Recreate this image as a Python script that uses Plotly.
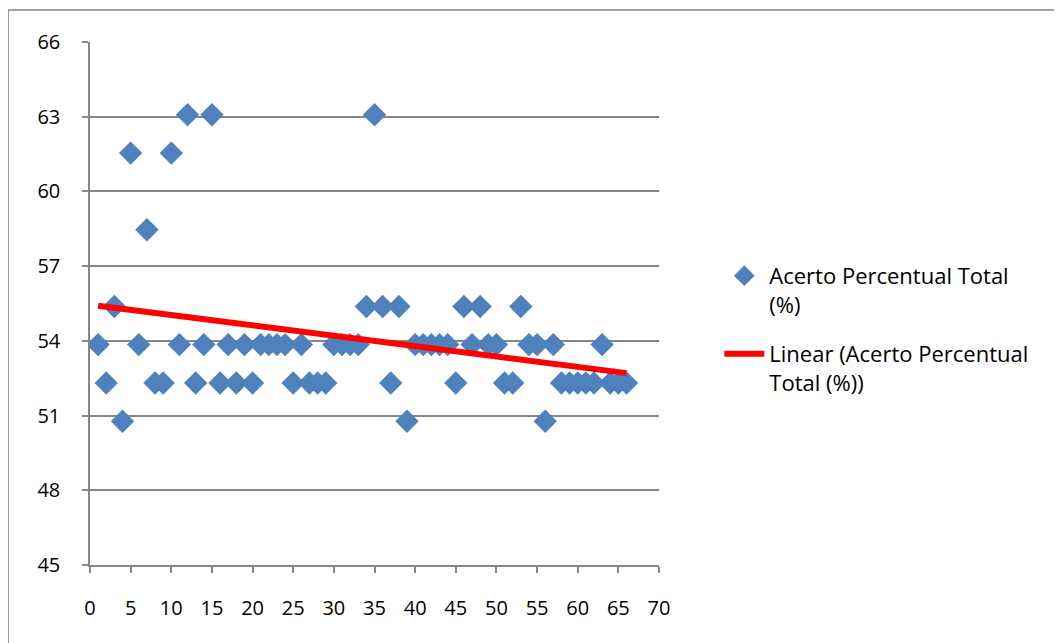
import numpy as np
import plotly.graph_objects as go

# Data
x_vals = list(range(1, 67))
acerto = [
    53.85, 52.31, 55.38, 50.77, 61.54, 53.85, 58.46, 52.31, 52.31, 61.54,
    53.85, 63.08, 52.31, 53.85, 63.08, 52.31, 53.85, 52.31, 53.85, 52.31,
    53.85, 53.85, 53.85, 53.85, 52.31, 53.85, 52.31, 52.31, 52.31, 53.85,
    53.85, 53.85, 53.85, 55.38, 63.08, 55.38, 52.31, 55.38, 50.77, 53.85,
    53.85, 53.85, 53.85, 53.85, 52.31, 55.38, 53.85, 55.38, 53.85, 53.85,
    52.31, 52.31, 55.38, 53.85, 53.85, 50.77, 53.85, 52.31, 52.31, 52.31,
    52.31, 52.31, 53.85, 52.31, 52.31, 52.31,
]
y_ticks = [45, 48, 51, 54, 57, 60, 63, 66]
x_ticks = list(range(0, 75, 5))

# Linear trend line (least squares), as in the Excel chart
slope, intercept = np.polyfit(x_vals, acerto, 1)
trend_x = [x_vals[0], x_vals[-1]]
trend_y = [slope * v + intercept for v in trend_x]

FONT = "Open Sans"
FS = 20
LEG_FS = 22

fig = go.Figure()
fig.add_trace(go.Scatter(
    x=x_vals, y=acerto, mode="markers",
    name="Acerto Percentual Total<br>(%)", legendgroup="g1",
    marker=dict(symbol="diamond", size=18, color="#4F81BD",
                line=dict(width=0)),
))
fig.add_trace(go.Scatter(
    x=trend_x, y=trend_y, mode="lines",
    name="Linear (Acerto Percentual<br>Total (%))", legendgroup="g2",
    line=dict(color="#FF0000", width=6),
))

# page body has an 8px margin: figure is shifted by 8px
fig.update_layout(
    width=1054, height=635,
    margin=dict(l=82, r=403, t=34, b=78, autoexpand=False),
    paper_bgcolor="white", plot_bgcolor="white",
    font=dict(family=FONT, size=FS, color="black"),
    showlegend=True,
    legend=dict(
        x=1.106, y=0.593, xanchor="left", yanchor="top",
        valign="top", tracegroupgap=18,
        font=dict(family=FONT, size=LEG_FS, color="black"),
        itemwidth=40,
    ),
    xaxis=dict(
        range=[0, 70], tickvals=x_ticks, showgrid=False, zeroline=False,
        automargin=False,
        showline=True, linecolor="#868686", linewidth=1.5,
        ticks="outside", ticklen=6, tickcolor="#868686", tickwidth=1.5,
        ticklabelstandoff=18,
        tickfont=dict(family=FONT, size=FS),
    ),
    yaxis=dict(
        range=[45, 66], tickvals=y_ticks, showgrid=True, gridcolor="#868686",
        gridwidth=1.5, zeroline=False, automargin=False,
        showline=True, linecolor="#868686", linewidth=1.5,
        ticks="outside", ticklen=6, tickcolor="#868686", tickwidth=1.5,
        ticklabelstandoff=18,
        tickfont=dict(family=FONT, size=FS),
    ),
    shapes=[dict(
        type="rect", xref="paper", yref="paper",
        x0=-0.144, x1=1.9, y0=-0.2, y1=1.061,
        line=dict(color="#868686", width=1.5), fillcolor="rgba(0,0,0,0)",
        layer="below",
    )],
)

fig.write_html("out.html")
